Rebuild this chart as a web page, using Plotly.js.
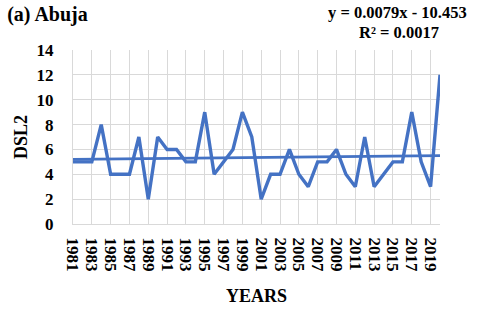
<!DOCTYPE html>
<html>
<head>
<meta charset="utf-8">
<script src="https://cdn.plot.ly/plotly-3.0.1.min.js"></script>
<style>html,body{margin:0;padding:0;background:#fff;}#chart{width:480px;height:309px;}</style>
</head>
<body>
<div id="chart"></div>
<script>
const years = [1981,1982,1983,1984,1985,1986,1987,1988,1989,1990,
               1991,1992,1993,1994,1995,1996,1997,1998,1999,2000,
               2001,2002,2003,2004,2005,2006,2007,2008,2009,2010,
               2011,2012,2013,2014,2015,2016,2017,2018,2019,2020];
const dsl2 = [5,5,5,8,4,4,4,7,2,7,
              6,6,5,5,9,4,5,6,9,7,
              2,4,4,6,4,3,5,5,6,4,
              3,7,3,4,5,5,9,5,3,12];
const trendSlope = 0.0079;
const trendIntercept = -10.453;
const trendR2 = 0.0017;
const tickYears = [1981,1983,1985,1987,1989,1991,1993,1995,1997,1999,2001,2003,2005,2007,2009,2011,2013,2015,2017,2019];

const trendX = [years[0], years[years.length-1]];
const trendY = trendX.map(x => trendSlope * x + trendIntercept);

const serif = 'Liberation Serif, Times New Roman, serif';
const blue = '#4472C4';

const data = [
  {x: years, y: dsl2, type: 'scatter', mode: 'lines', line: {color: blue, width: 3.4}, hoverinfo: 'skip'},
  {x: trendX, y: trendY, type: 'scatter', mode: 'lines', line: {color: blue, width: 2.8}, hoverinfo: 'skip'}
];

const layout = {
  width: 480, height: 309,
  margin: {l: 72.7, r: 40, t: 50, b: 85},
  paper_bgcolor: '#fff', plot_bgcolor: '#fff',
  showlegend: false,
  font: {family: serif, color: '#000'},
  title: {text: '<b>(a) Abuja</b>', x: 0.015, xanchor: 'left', y: 0.955, yanchor: 'middle',
          font: {family: serif, size: 20, color: '#000'}},
  xaxis: {
    range: [1981, 2020], tickvals: tickYears, ticktext: tickYears.map(String),
    tickangle: 90, showgrid: true, gridcolor: '#d9d9d9', gridwidth: 1,
    zeroline: false, showline: true, linecolor: '#d9d9d9', linewidth: 1,
    ticks: 'outside', ticklen: 9, tickcolor: 'rgba(0,0,0,0)',
    tickfont: {family: serif, size: 17, color: '#000', weight: 'bold'},
    title: {text: '<b>YEARS</b>', standoff: 18, font: {family: serif, size: 18, color: '#000'}},
    automargin: false, fixedrange: true
  },
  yaxis: {
    range: [0, 14], dtick: 2, tick0: 0, showgrid: true, gridcolor: '#d9d9d9', gridwidth: 1,
    zeroline: false, showline: true, linecolor: '#d9d9d9', linewidth: 1,
    ticks: 'outside', ticklen: 15, tickcolor: 'rgba(0,0,0,0)',
    tickfont: {family: serif, size: 17, color: '#000', weight: 'bold'},
    title: {text: '<b>DSL2</b>', standoff: 4, font: {family: serif, size: 18, color: '#000'}},
    automargin: false, fixedrange: true
  },
  annotations: [
    {text: '<b>y = ' + trendSlope + 'x - ' + Math.abs(trendIntercept) + '</b>', xref: 'paper', yref: 'paper',
     x: 0.883, y: 1.213, xanchor: 'center', yanchor: 'middle', showarrow: false,
     font: {family: serif, size: 16.5, color: '#000'}},
    {text: '<b>R² = ' + trendR2 + '</b>', xref: 'paper', yref: 'paper',
     x: 0.887, y: 1.103, xanchor: 'center', yanchor: 'middle', showarrow: false,
     font: {family: serif, size: 16.5, color: '#000'}}
  ]
};

Plotly.newPlot('chart', data, layout, {staticPlot: true, displayModeBar: false});
</script>
</body>
</html>
